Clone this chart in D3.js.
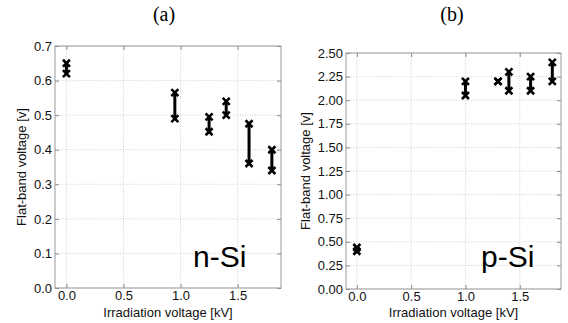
<!DOCTYPE html>
<html lang="en">
<head>
    <meta charset="UTF-8">
    <title>Flat-band voltage vs irradiation voltage</title>
    <script src="https://d3js.org/d3.v7.min.js"></script>
    <style>
        body {
            margin: 0;
            background: #fff;
        }
        svg {
            display: block;
            font-family: "Liberation Sans", Arial, sans-serif;
        }
    </style>
</head>
<body>
<svg id="chart" width="568" height="323"></svg>

<script>
    // n-Si panel (a)
    const nSiVoltage = [0, 0.95, 1.25, 1.4, 1.6, 1.8];
    const nSiLow = [0.62, 0.49, 0.452, 0.50, 0.36, 0.34];
    const nSiHigh = [0.65, 0.565, 0.495, 0.54, 0.475, 0.40];
    const nSiTicks = [0, 0.1, 0.2, 0.3, 0.4, 0.5, 0.6, 0.7];

    // p-Si panel (b)
    const pSiVoltage = [0, 1.0, 1.3, 1.4, 1.6, 1.8];
    const pSiLow = [0.40, 2.05, 2.20, 2.10, 2.10, 2.20];
    const pSiHigh = [0.44, 2.20, 2.20, 2.30, 2.25, 2.40];
    const pSiTicks = [0, 0.25, 0.5, 0.75, 1.0, 1.25, 1.5, 1.75, 2.0, 2.25, 2.5];

    const xTicks = [0, 0.5, 1.0, 1.5];

    const svg = d3.select("#chart");

    function drawPanel(opts) {
        const { left, right, top, bottom } = opts;
        const x = d3.scaleLinear().domain([-0.1, 1.88]).range([left, right]);
        const y = d3.scaleLinear().domain(opts.yDomain).range([bottom, top]);
        const g = svg.append("g");

        // grid
        g.append("g").selectAll("line").data(xTicks).join("line")
            .attr("x1", d => x(d)).attr("x2", d => x(d))
            .attr("y1", top).attr("y2", bottom)
            .attr("stroke", "#c8c8c8").attr("stroke-width", 0.8)
            .attr("stroke-dasharray", "1,1.5");
        g.append("g").selectAll("line").data(opts.yTicks).join("line")
            .attr("x1", left).attr("x2", right)
            .attr("y1", d => y(d)).attr("y2", d => y(d))
            .attr("stroke", "#c8c8c8").attr("stroke-width", 0.8)
            .attr("stroke-dasharray", "1,1.5");

        // axes (inward ticks on all sides)
        const xb = g.append("g").attr("transform", `translate(0,${bottom})`)
            .call(d3.axisBottom(x).tickValues(xTicks).tickFormat(d3.format(".1f")).tickSizeInner(-4).tickSizeOuter(0).tickPadding(3));
        const xt = g.append("g").attr("transform", `translate(0,${top})`)
            .call(d3.axisTop(x).tickValues(xTicks).tickFormat("").tickSizeInner(-4).tickSizeOuter(0));
        const yl = g.append("g").attr("transform", `translate(${left},0)`)
            .call(d3.axisLeft(y).tickValues(opts.yTicks).tickFormat(d3.format(opts.yFormat)).tickSizeInner(-4).tickSizeOuter(0).tickPadding(3));
        const yr = g.append("g").attr("transform", `translate(${right},0)`)
            .call(d3.axisRight(y).tickValues(opts.yTicks).tickFormat("").tickSizeInner(-4).tickSizeOuter(0));
        [xb, xt, yl, yr].forEach(a => {
            a.select(".domain").remove();
            a.selectAll(".tick line").attr("stroke", "#888");
            a.selectAll("text").attr("font-size", 13).attr("fill", "#111")
                .attr("font-family", "'Liberation Sans', Arial, sans-serif");
        });

        g.append("rect")
            .attr("x", left).attr("y", top)
            .attr("width", right - left).attr("height", bottom - top)
            .attr("fill", "none").attr("stroke", "#999").attr("stroke-width", 1);

        // error-bar style connectors
        const data = opts.xs.map((v, i) => ({ v, lo: opts.lo[i], hi: opts.hi[i] }));
        g.append("g").selectAll("line").data(data).join("line")
            .attr("x1", d => x(d.v)).attr("x2", d => x(d.v))
            .attr("y1", d => y(d.lo)).attr("y2", d => y(d.hi))
            .attr("stroke", "#000").attr("stroke-width", 3);

        const pts = data.flatMap(d => [{ v: d.v, y: d.lo }, { v: d.v, y: d.hi }]);
        const s = 3.5;
        g.append("g").selectAll("path").data(pts).join("path")
            .attr("transform", d => `translate(${x(d.v)},${y(d.y)})`)
            .attr("d", `M${-s},${-s}L${s},${s}M${-s},${s}L${s},${-s}`)
            .attr("stroke", "#000").attr("stroke-width", 2.6)
            .attr("fill", "none");

        // labels
        g.append("text")
            .attr("x", (left + right) / 2).attr("y", 317)
            .attr("text-anchor", "middle").attr("font-size", 13).attr("fill", "#111")
            .text("Irradiation voltage [kV]");
        g.append("text")
            .attr("transform", `translate(${opts.yLabelX},${(top + bottom) / 2}) rotate(-90)`)
            .attr("text-anchor", "middle").attr("font-size", 13).attr("fill", "#111")
            .text("Flat-band voltage [v]");
        g.append("text")
            .attr("x", opts.titleX).attr("y", 21)
            .attr("text-anchor", "middle")
            .attr("font-family", "'Liberation Serif', 'Times New Roman', serif")
            .attr("font-size", 20).attr("fill", "#000")
            .text(opts.title);
        g.append("text")
            .attr("x", opts.tagX).attr("y", 267)
            .attr("font-size", 30).attr("fill", "#000")
            .text(opts.tag);
    }

    drawPanel({
        left: 55, right: 281, top: 46, bottom: 288,
        yDomain: [0, 0.7], yTicks: nSiTicks, yFormat: ".1f",
        xs: nSiVoltage, lo: nSiLow, hi: nSiHigh,
        yLabelX: 26, title: "(a)", titleX: 164, tag: "n-Si", tagX: 193
    });

    drawPanel({
        left: 346, right: 561, top: 53, bottom: 289,
        yDomain: [0, 2.5], yTicks: pSiTicks, yFormat: ".2f",
        xs: pSiVoltage, lo: pSiLow, hi: pSiHigh,
        yLabelX: 310, title: "(b)", titleX: 452, tag: "p-Si", tagX: 481
    });
</script>
</body>
</html>
